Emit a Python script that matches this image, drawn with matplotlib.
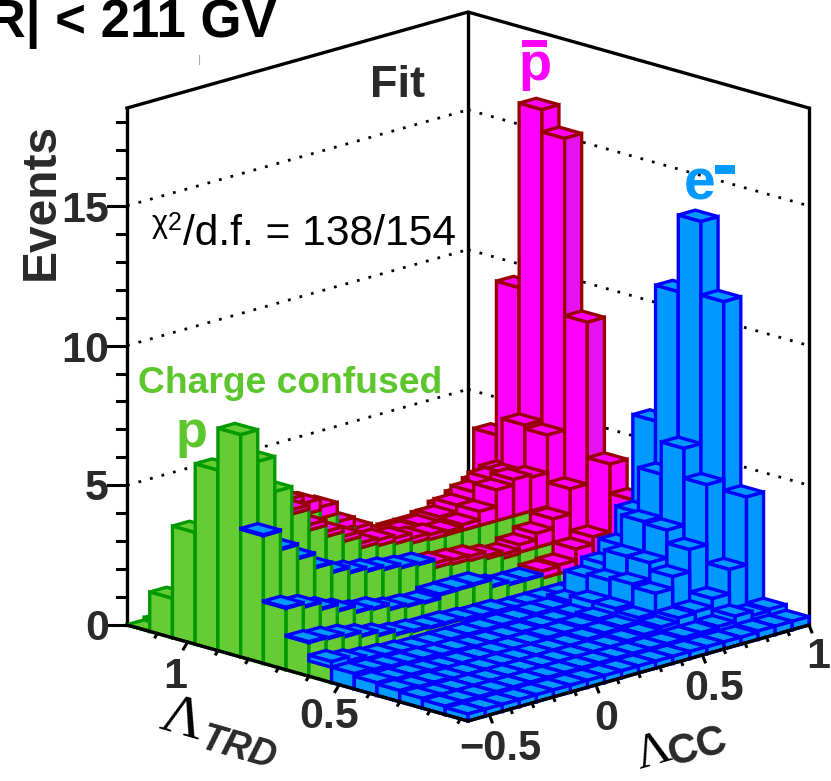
import numpy as np
import matplotlib
matplotlib.use('Agg')
import matplotlib.pyplot as plt
from matplotlib.lines import Line2D
from matplotlib.patches import Rectangle
from mpl_toolkits.mplot3d import proj3d
from mpl_toolkits.mplot3d.art3d import Poly3DCollection

W, H = 831, 781
plt.rcParams['font.family'] = ['Liberation Sans', 'DejaVu Sans']

# bin edges of the lego plot
trd_edges = np.linspace(1.2, 0.075, 16)
cc_edges = np.linspace(-0.6, 1.0, 21)
z_max = 18.5

# events per bin, one row per TRD bin (high TRD first), 20 CC bins in a row
p_fit = [
    [0.01, 0.1, 0.1, 0.1, 0.1, 0.1, 0.1, 0.1, 0.1, 0.1, 0.1, 0.1, 0.1, 0.1, 0.1, 0.1, 0.1, 0.1, 0.1, 0.1],
    [1.41, 1.3, 1.1, 1.0, 0.9, 0.8, 0.8, 0.7, 0.7, 0.7, 0.7, 0.7, 0.7, 0.7, 0.7, 0.7, 0.7, 0.7, 0.7, 0.7],
    [4.0, 3.5, 3.0, 2.7, 2.4, 2.1, 2.0, 1.9, 1.8, 1.8, 1.8, 1.8, 1.8, 1.8, 1.8, 1.8, 1.8, 1.8, 1.8, 1.8],
    [6.46, 5.9, 5.5, 5.0, 4.5, 4.0, 3.7, 3.1, 2.75, 2.35, 2.2, 2.2, 2.2, 2.2, 2.2, 2.2, 2.2, 2.2, 2.2, 2.2],
    [7.96, 6.83, 5.58, 4.6, 3.85, 3.45, 3.1, 2.7, 2.6, 2.5, 2.35, 2.3, 2.3, 2.3, 2.3, 2.3, 2.3, 2.3, 2.3, 2.3],
    [4.57, 3.9, 3.4, 2.9, 2.56, 2.37, 2.25, 2.14, 2.03, 1.97, 1.7, 1.65, 1.6, 1.5, 1.35, 1.4, 1.4, 1.4, 1.4, 1.4],
    [2.2, 2.06, 1.81, 1.58, 1.35, 1.29, 1.11, 1.05, 1.0, 1.13, 1.14, 1.15, 0.9, 0.8, 0.8, 0.7, 0.7, 0.7, 0.7, 0.7],
    [1.2, 1.15, 1.05, 0.9, 0.75, 0.6, 0.55, 0.5, 0.5, 0.45, 0.4, 0.4, 0.3, 0.3, 0.3, 0.3, 0.3, 0.3, 0.3, 0.3],
    [0.55, 0.4, 0.3, 0.25, 0.2, 0.1, 0.1, 0.1, 0.1, 0.1, 0.1, 0.1, 0.1, 0.1, 0.1, 0.1, 0.1, 0.1, 0.1, 0.1],
    [0] * 20, [0] * 20, [0] * 20, [0] * 20, [0] * 20, [0] * 20,
]
pbar_fit = [
    [0, 0, 0, 0, 0, 0, 0, 0, 0, 0, 0, 0, 0, 0.05, 0.1, 0.2, 0.2, 0.3, 0.5, 1.2],
    [0, 0, 0, 0, 0.05, 0.05, 0.05, 0.05, 0.05, 0.05, 0.05, 0.05, 0.05, 0.1, 0.2, 0.3, 0.4, 0.5, 0.8, 3.3],
    [0, 0, 0, 0, 0.1, 0.2, 0.2, 0.2, 0.2, 0.1, 0.1, 0.1, 0.2, 0.2, 0.3, 0.5, 0.7, 1.0, 1.27, 7.7],
    [0, 0, 0, 0, 0.2, 0.4, 0.4, 0.3, 0.25, 0.25, 0.2, 0.15, 0.2, 0.35, 0.6, 0.9, 1.2, 1.16, 2.78, 13.9],
    [0, 0, 0, 0.15, 0.19, 0.18, 0.18, 0.17, 0.2, 0.2, 0.18, 0.17, 0.11, 0.2, 0.5, 1.1, 1.3, 1.2, 2.55, 13.0],
    [0, 0, 0, 0, 0, 0, 0, 0, 0, 0, 0.16, 0.15, 0.15, 0.1, 0.14, 0.27, 0.5, 0.85, 1.75, 7.55],
    [0, 0, 0, 0, 0, 0, 0, 0, 0, 0, 0, 0, 0, 0, 0, 0.25, 0.3, 0.7, 0.96, 3.4],
    [0, 0, 0, 0, 0, 0, 0, 0, 0, 0, 0, 0, 0, 0, 0, 0, 0, 0, 0.6, 2.75],
    [0] * 20, [0] * 20, [0] * 20, [0] * 20, [0] * 20, [0] * 20, [0] * 20,
]
e_fit = [
    [0] * 20, [0] * 20, [0] * 20, [0] * 20, [0] * 20,
    [0.03, 0.03, 0.03, 0.03, 0.03, 0.03, 0.03, 0.03, 0.03, 0.03, 0, 0, 0, 0, 0, 0, 0, 0, 0, 0],
    [0.03, 0.03, 0.03, 0.03, 0.03, 0.03, 0.03, 0.03, 0.03, 0.03, 0.03, 0.03, 0.03, 0.03, 0.03, 0, 0, 0, 0, 0],
    [0.03, 0.03, 0.03, 0.03, 0.03, 0.03, 0.03, 0.03, 0.03, 0.03, 0.03, 0.03, 0.03, 0.03, 0.03, 0.03, 0.03, 0.03, 0, 0],
    [0.2, 0.2, 0.2, 0.2, 0.2, 0.25, 0.25, 0.25, 0.25, 0.25, 0.25, 0.25, 0.3, 0.3, 0.4, 1.1, 1.4, 1.9, 2.9, 6.0],
    [0.55, 0.5, 0.45, 0.4, 0.4, 0.35, 0.35, 0.3, 0.3, 0.3, 0.3, 0.35, 0.35, 0.4, 0.7, 1.3, 2.0, 3.07, 4.6, 10.96],
    [0.45, 0.4, 0.4, 0.35, 0.3, 0.3, 0.3, 0.3, 0.3, 0.3, 0.35, 0.35, 0.4, 0.5, 0.7, 1.4, 2.0, 3.0, 5.75, 13.7],
    [0.4, 0.35, 0.35, 0.3, 0.3, 0.3, 0.3, 0.3, 0.3, 0.3, 0.3, 0.35, 0.4, 0.45, 0.6, 1.3, 1.73, 2.53, 4.68, 11.06],
    [0.35, 0.3, 0.3, 0.3, 0.3, 0.3, 0.3, 0.3, 0.3, 0.3, 0.3, 0.3, 0.35, 0.4, 0.5, 0.65, 0.7, 1.0, 1.87, 4.3],
    [0.3, 0.3, 0.3, 0.3, 0.3, 0.3, 0.3, 0.3, 0.3, 0.3, 0.3, 0.3, 0.3, 0.3, 0.35, 0.35, 0.4, 0.6, 0.45, 0.5],
    [0.25, 0.25, 0.25, 0.25, 0.25, 0.25, 0.25, 0.25, 0.25, 0.25, 0.25, 0.25, 0.25, 0.25, 0.25, 0.25, 0.25, 0.3, 0.3, 0.3],
]

z_major = [0, 5, 10, 15]
z_minor = [1, 2, 3, 4, 6, 7, 8, 9, 11, 12, 13, 14, 16, 17, 18]
trd_major = [1.0, 0.5]
trd_minor = [1.1, 0.9, 0.8, 0.7, 0.6, 0.4, 0.3, 0.2, 0.1]
cc_major = [-0.5, 0.0, 0.5, 1.0]
cc_minor = [-0.4, -0.3, -0.2, -0.1, 0.1, 0.2, 0.3, 0.4, 0.6, 0.7, 0.8, 0.9]

# face, edge colour of the three species
styles = [('#66cc33', '#009900'), ('#ff00ff', '#990000'), ('#0099ff', '#0000ff')]

fig = plt.figure(figsize=(W / 100, H / 100), dpi=100)
side = 800
ax = fig.add_axes([0.05, 0.05, side / W, side / H], projection='3d', computed_zorder=False)
ax.set_proj_type('ortho')
ax.view_init(elev=16.35, azim=-45)
ax.set_box_aspect((482.2, 482.2, 538.7))
ax.set_xlim(trd_edges[0], trd_edges[-1])
ax.set_ylim(cc_edges[0], cc_edges[-1])
ax.set_zlim(0, z_max)
ax.set_axis_off()


def to_px(x, y, z):
    xp, yp, _ = proj3d.proj_transform(x, y, z, ax.get_proj())
    return ax.transData.transform((xp, yp))


# scale and move the axes so the floor corners land where they should
ax.apply_aspect()
lp = to_px(trd_edges[0], cc_edges[0], 0)
rp = to_px(trd_edges[-1], cc_edges[-1], 0)
side = side * 682 / (rp[0] - lp[0])
ax.set_position([0.05, 0.05, side / W, side / H])
ax.apply_aspect()
lp = to_px(trd_edges[0], cc_edges[0], 0)
ax.set_position([0.05 + (127 - lp[0]) / W, 0.05 + (H - 625 - lp[1]) / H, side / W, side / H])
ax.apply_aspect()

t0, t1 = trd_edges[0], trd_edges[-1]
c0, c1 = cc_edges[0], cc_edges[-1]
t_span = t1 - t0
c_span = c1 - c0


def line3(xs, ys, zs, z=1, lw=2.4, **kw):
    kw.setdefault('color', 'black')
    ax.plot(xs, ys, zs, lw=lw, zorder=z, solid_capstyle='projecting', **kw)


# back walls and dotted grid
for zv in z_major[1:]:
    for xs, ys in (([t0, t0], [c0, c1]), ([t0, t1], [c1, c1])):
        ax.plot(xs, ys, [zv, zv], color='black', lw=2.0, ls=(0, (1, 3.3)), zorder=1)
line3([t0, t0], [c0, c0], [0, z_max])
line3([t0, t0], [c1, c1], [0, z_max])
line3([t1, t1], [c1, c1], [0, z_max])
line3([t0, t0, t1], [c0, c1, c1], [z_max, z_max, z_max])

# bars, back to front, each stack from the bottom up
order = 10
for a in range(len(trd_edges) - 1):
    for j in range(len(cc_edges) - 2, -1, -1):
        x0, x1 = trd_edges[a], trd_edges[a + 1]
        y0, y1 = cc_edges[j], cc_edges[j + 1]
        base = 0.0
        for counts, (face, edge) in zip((p_fit, pbar_fit, e_fit), styles):
            h = counts[a][j]
            if h <= 0:
                continue
            top = base + h
            polys = [
                [(x1, y0, base), (x1, y1, base), (x1, y1, top), (x1, y0, top)],
                [(x0, y0, base), (x1, y0, base), (x1, y0, top), (x0, y0, top)],
                [(x0, y0, top), (x1, y0, top), (x1, y1, top), (x0, y1, top)],
            ]
            # the tall antiproton bars have a slightly bluer side face
            side_face = '#e612f2' if face == '#ff00ff' and a >= 4 and h > 5 else face
            pc = Poly3DCollection(polys, facecolors=[side_face, face, face], edgecolors=edge,
                                  linewidths=2.4, joinstyle='miter')
            pc.set_zorder(order)
            ax.add_collection3d(pc, autolim=False)
            order += 1
            base = top

# front floor axes, drawn over the bar feet
line3([t0, t1, t1], [c0, c0, c1], [0, 0, 0], z=order)

# ticks: short slanted strokes, offsets as fractions of the axis spans
for vals, ln in ((trd_major, 1.0), (trd_minor, 0.5)):
    for v in vals:
        ax.plot([v, v + 0.03 * ln * t_span], [c0, c0 - 0.042 * ln * c_span], [0, 0],
                color='black', lw=2.2, zorder=order)
for vals, ln in ((cc_major, 1.0), (cc_minor, 0.5)):
    for v in vals:
        ax.plot([t1, t1 + 0.04 * ln * t_span], [v, v - 0.032 * ln * c_span], [0, 0],
                color='black', lw=2.2, zorder=order)
for vals, ln in ((z_major, 19 / 682), (z_minor, 10 / 682)):
    for v in vals:
        ax.plot([t0, t0 - ln * t_span], [c0, c0 - ln * c_span], [v, v],
                color='black', lw=2.2, zorder=order)


def label(x, y, s, size, color='#2b2a2b', weight='bold', ha='center', va='center', **kw):
    fig.text(x / W, 1 - y / H, s, fontsize=size, color=color, fontweight=weight, ha=ha, va=va, **kw)


for zv, y in zip(z_major, (625, 485, 346, 206)):
    label(109, y, str(zv), 31, ha='right', va='center_baseline')

label(175, 672, '1', 31, va='center_baseline')
label(329, 713, '0.5', 31, va='center_baseline')
label(541, 745, '\u22120.5', 30, ha='right', va='center_baseline')
label(606, 715, '0', 31, va='center_baseline')
label(714, 684, '0.5', 31, va='center_baseline')
label(818, 652, '1', 31, va='center_baseline')

label(277, 37, '|R| < 211 GV', 38, color='black', ha='right', va='baseline')
label(2, 360, ')', 26, color='#2b2a2b', ha='right', weight='normal')
label(41, 201, 'Events', 34.5, rotation=90)
label(398, 97, 'Fit', 32.5, ha='center', va='baseline')
label(152, 232, '\u03c7', 22, color='black', weight='normal', ha='left', va='baseline')
label(168, 230, '2', 18, color='black', weight='normal', ha='left', va='baseline')
label(183, 245, '/d.f. = 138/154', 30.6, color='black', weight='normal', ha='left', va='baseline')
label(290, 393, 'Charge confused', 26.8, color='#5cc62d', va='baseline')
label(192, 447, 'p', 37.5, color='#5cc62d', va='baseline')
label(535, 80, 'p', 39, color='#ff00ff', va='baseline')
label(700, 199, 'e', 41, color='#0099ff', va='baseline')
fig.add_artist(Rectangle((522 / W, 1 - 47 / H), 25 / W, 7 / H, transform=fig.transFigure, color='#ff00ff', lw=0))
fig.add_artist(Rectangle((715 / W, 1 - 174 / H), 20 / W, 9 / H, transform=fig.transFigure, color='#0099ff', lw=0))
fig.add_artist(Line2D([198.5 / W, 198.5 / W], [1 - 55 / H, 1 - 64 / H], color='#aaaaaa', lw=0.8))

# axis titles, slanted along their axes
label(182, 720, '\u039b', 42, color='black', weight='normal', family='Liberation Serif', rotation=-16)
label(238, 749, 'TRD', 27, style='italic', rotation=-16)
label(653, 753, '\u039b', 35, color='black', weight='normal', family='Liberation Serif', rotation=16)
label(697, 748, 'CC', 30, rotation=15)

fig.savefig('out.png', dpi=100)
